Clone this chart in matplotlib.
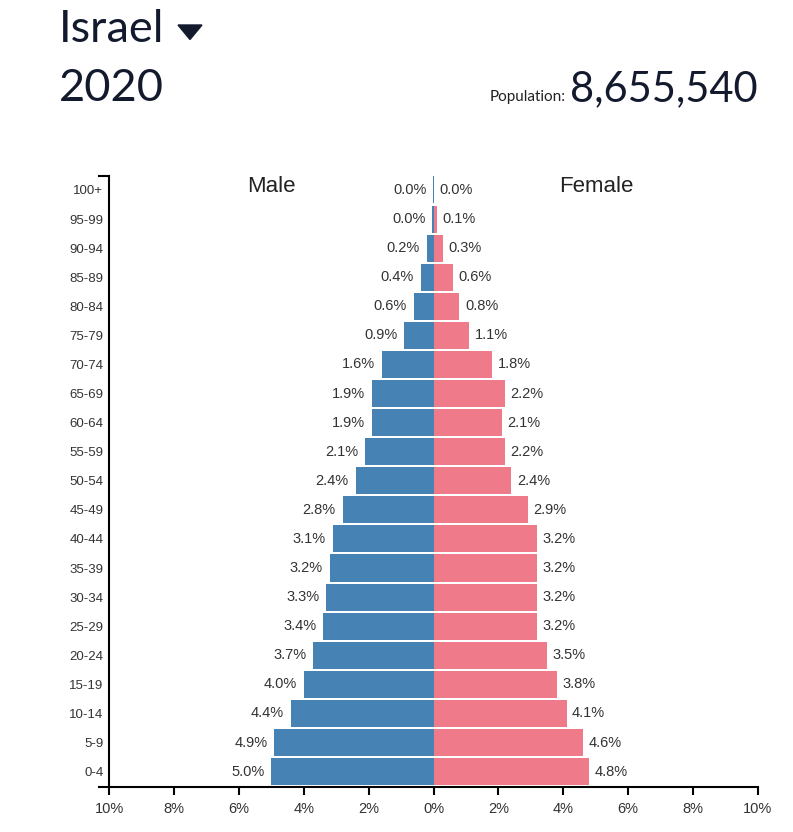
import matplotlib
matplotlib.use("Agg")
import matplotlib.pyplot as plt
from matplotlib.patches import Polygon

age_groups = ["0-4", "5-9", "10-14", "15-19", "20-24", "25-29", "30-34", "35-39",
              "40-44", "45-49", "50-54", "55-59", "60-64", "65-69", "70-74",
              "75-79", "80-84", "85-89", "90-94", "95-99", "100+"]
male = [5.0, 4.9, 4.4, 4.0, 3.7, 3.4, 3.3, 3.2, 3.1, 2.8, 2.4, 2.1, 1.9, 1.9, 1.6,
        0.9, 0.6, 0.4, 0.2, 0.04, 0.005]
female = [4.8, 4.6, 4.1, 3.8, 3.5, 3.2, 3.2, 3.2, 3.2, 2.9, 2.4, 2.2, 2.1, 2.2, 1.8,
          1.1, 0.8, 0.6, 0.3, 0.1, 0.01]
x_ticks = [-10, -8, -6, -4, -2, 0, 2, 4, 6, 8, 10]
country = "Israel"
year = "2020"
population = "8,655,540"

W, H = 793, 832
fig = plt.figure(figsize=(W / 100, H / 100), dpi=100)
fig.patch.set_facecolor("white")

def fx(px):
    return px / W

def fy(py):
    return 1 - py / H

ax = fig.add_axes([fx(109), fy(787), fx(758) - fx(109), fy(176) - fy(787)])

MALE_C = "#4682b4"
FEMALE_C = "#ef7a89"
TXT = "#333333"
AF = "Liberation Sans"

y = list(range(len(age_groups)))
ax.barh(y, [-m for m in male], height=0.93, color=MALE_C, edgecolor="none")
ax.barh(y, female, height=0.93, color=FEMALE_C, edgecolor="none")

for yi, m, f in zip(y, male, female):
    ax.annotate(f"{m:.1f}%", xy=(-m, yi), xytext=(-5, 0), textcoords="offset points",
                ha="right", va="center", fontsize=10.5, color=TXT, family=AF)
    ax.annotate(f"{f:.1f}%", xy=(f, yi), xytext=(4, 0), textcoords="offset points",
                ha="left", va="center", fontsize=10.5, color=TXT, family=AF)

ax.set_xlim(-10, 10)
ax.set_ylim(-0.53, 20.48)

ax.set_yticks(y)
ax.set_yticklabels(age_groups, family=AF, fontsize=9.5, color=TXT)
ax.tick_params(axis="y", length=0, pad=4)

ax.set_xticks(x_ticks)
ax.set_xticklabels([f"{abs(t)}%" for t in x_ticks], family=AF, fontsize=10.5, color=TXT)
ax.tick_params(axis="x", length=6, width=1.5, pad=5, color="black")

for s in ["top", "right"]:
    ax.spines[s].set_visible(False)
ax.spines["left"].set_linewidth(1.5)
ax.spines["bottom"].set_linewidth(1.5)

# outer stubs of the left axis
ax.plot([-10.31, -10], [20.48, 20.48], color="black", lw=1.5, clip_on=False)
ax.plot([-10.31, -10], [-0.53, -0.53], color="black", lw=1.5, clip_on=False)

fig.text(fx(271), fy(192), "Male", ha="center", va="baseline", fontsize=16,
         family=AF, color="#222222")
fig.text(fx(596), fy(192), "Female", ha="center", va="baseline", fontsize=16,
         family=AF, color="#222222")

TF = "Lato"
TC = "#141a2e"
fig.text(fx(59), fy(41.7), country, ha="left", va="baseline", fontsize=32.5,
         family=TF, color=TC)
fig.text(fx(59), fy(100.7), year, ha="left", va="baseline", fontsize=32.5,
         family=TF, color=TC)
tri = Polygon([[fx(178), fy(25)], [fx(202), fy(25)], [fx(190), fy(39.5)]],
              closed=True, transform=fig.transFigure, color=TC)
fig.patches.append(tri)
fig.text(fx(758), fy(101.5), population, ha="right", va="baseline", fontsize=30,
         family=TF, color=TC)
fig.text(fx(490), fy(101.5), "Population:", ha="left", va="baseline", fontsize=11,
         family=TF, color="#222222")

fig.savefig("out.png", dpi=100, facecolor="white")
